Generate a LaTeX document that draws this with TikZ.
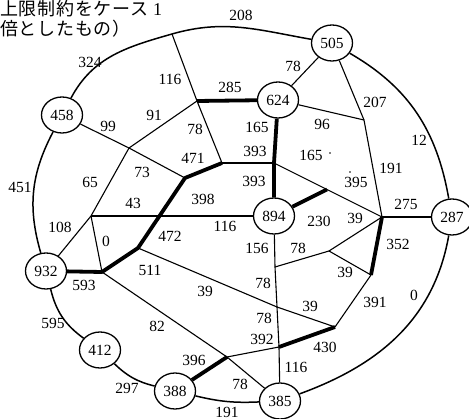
\documentclass[tikz,border=0pt]{standalone}
\usepackage{fontspec}
\setmainfont{Liberation Serif}
\newfontfamily\numfont{Liberation Serif}
\newfontfamily\jpfont[LetterSpace=4]{Noto Sans CJK JP}
\usetikzlibrary{shapes.geometric}
\begin{document}
\begin{tikzpicture}[x=1pt,y=1pt,
  cnode/.style={ellipse, draw, line width=1.3pt, minimum width=41pt, minimum height=36pt, inner sep=0pt, font=\numfont\fontsize{15.5}{18}\selectfont},
  lab/.style={inner sep=0pt, font=\numfont\fontsize{15.5}{18}\selectfont},
  title/.style={inner sep=0pt, anchor=west, font=\jpfont\fontsize{18}{21}\selectfont},
  edgethin/.style={line width=1.1pt},
  edgethick/.style={line width=3.8pt, line join=round},
  ring/.style={line width=1.5pt},
  speck/.style={fill, circle, inner sep=0pt, minimum size=1.6pt}]
\useasboundingbox (0,0) rectangle (469,-419);

% title
\node[title] (t1) at (0,-8.5) {上限制約をケース {\numfont 1}};
\node[title] (t2) at (0,-29) {倍としたもの）};

% circle nodes
\node[cnode] (n505) at (332,-43) {505};
\node[cnode] (n624) at (278,-100) {624};
\node[cnode] (n458) at (62,-115) {458};
\node[cnode] (n894) at (274,-216) {894};
\node[cnode] (n287) at (452,-217) {287};
\node[cnode] (n932) at (46,-271) {932};
\node[cnode] (n412) at (100,-350) {412};
\node[cnode] (n388) at (175,-391) {388};
\node[cnode] (n385) at (280,-401) {385};

% junctions
\coordinate (J1) at (172,-34);
\coordinate (J2) at (197,-101);
\coordinate (J3) at (222,-163);
\coordinate (J4) at (274,-163);
\coordinate (J5) at (364,-120);
\coordinate (J6) at (327,-189.5);
\coordinate (JR) at (382,-217);
\coordinate (J7) at (371,-275);
\coordinate (J8) at (329,-251);
\coordinate (J9) at (275,-267);
\coordinate (J10) at (277,-307);
\coordinate (J11) at (279,-347);
\coordinate (J13) at (335,-327);
\coordinate (J14) at (227,-357);
\coordinate (J15) at (102,-272);
\coordinate (J16) at (138,-248);
\coordinate (J17) at (185,-178);
\coordinate (J18) at (91,-216);
\coordinate (J19) at (129,-148);

% outer ring
\draw[ring] (n458) to[out=62,in=196] (J1) to[out=16,in=170] (n505);
\draw[ring] (n505) to[out=-30,in=100] (n287);
\draw[ring] (n287) to[out=-100,in=20] (n385);
\draw[ring] (n388) to[bend right=8] (n385);
\draw[ring] (n412) to[bend right=15] (n388);
\draw[ring] (n932) to[bend right=20] (n412);
\draw[ring] (n932) to[bend left=22] (n458);

% thin edges
\draw[edgethin] (J1) -- (J2);
\draw[edgethin] (J2) -- (J19);
\draw[edgethin] (J2) -- (J3);
\draw[edgethin] (J3) -- (J4);
\draw[edgethin] (J4) -- (JR);
\draw[edgethin] (n505) -- (n624);
\draw[edgethin] (n505) -- (J5);
\draw[edgethin] (n624) -- (J5);
\draw[edgethin] (J5) -- (JR);
\draw[edgethin] (JR) -- (n287);
\draw[edgethin] (JR) -- (J8);
\draw[edgethin] (J8) -- (J7);
\draw[edgethin] (J8) -- (J9);
\draw[edgethin] (n894) -- (J9) -- (J10) -- (J11) -- (n385);
\draw[edgethin] (J16) -- (J10) -- (J13);
\draw[edgethin] (J13) -- (J7);
\draw[edgethin] (J11) -- (J14);
\draw[edgethin] (J15) -- (J14);
\draw[edgethin] (J14) -- (n385);
\draw[edgethin] (n458) -- (J19) -- (J17);
\draw[edgethin] (J19) -- (J18);
\draw[edgethin] (J18) -- (n932);
\draw[edgethin] (J18) -- (J15);
\draw[edgethin] (J18) -- (n894);

% thick edges
\draw[edgethick] (n932) -- (J15) -- (J16) -- (J17) -- (J3);
\draw[edgethick] (J2) -- (n624);
\draw[edgethick] (n624) -- (J4) -- (n894);
\draw[edgethick] (n894) -- (J6);
\draw[edgethick] (JR) -- (J7);
\draw[edgethick] (J11) -- (J13);
\draw[edgethick] (J14) -- (n388);

% labels
\node[lab] (l1) at (90,-62) {324};
\node[lab] (l2) at (241,-15) {208};
\node[lab] (l3) at (170,-79) {116};
\node[lab] (l4) at (230,-87) {285};
\node[lab] (l5) at (293,-66) {78};
\node[lab] (l6) at (375,-102) {207};
\node[lab] (l7) at (322,-124) {96};
\node[lab] (l8) at (257,-127) {165};
\node[lab] (l9) at (255,-151) {393};
\node[lab] (l10) at (254,-181) {393};
\node[lab] (l11) at (108,-126) {99};
\node[lab] (l12) at (154,-115) {91};
\node[lab] (l13) at (195,-129) {78};
\node[lab] (l14) at (193,-158) {471};
\node[lab] (l15) at (142,-172) {73};
\node[lab] (l16) at (90,-182) {65};
\node[lab] (l17) at (20,-187) {451};
\node[lab] (l18) at (133,-203) {43};
\node[lab] (l19) at (203,-199) {398};
\node[lab] (l20) at (60,-227) {108};
\node[lab] (l21) at (106,-241) {0};
\node[lab] (l22) at (170,-236) {472};
\node[lab] (l23) at (225,-226) {116};
\node[lab] (l24) at (150,-270) {511};
\node[lab] (l25) at (84,-285) {593};
\node[lab] (l26) at (205,-291) {39};
\node[lab] (l27) at (257,-248) {156};
\node[lab] (l28) at (263,-283) {78};
\node[lab] (l29) at (298,-248) {78};
\node[lab] (l30) at (319,-221) {230};
\node[lab] (l31) at (355,-218) {39};
\node[lab] (l32) at (406,-204) {275};
\node[lab] (l33) at (398,-244) {352};
\node[lab] (l34) at (345,-272) {39};
\node[lab] (l35) at (391,-168) {191};
\node[lab] (l36) at (311,-155) {165};
\node[lab] (l37) at (356,-182) {395};
\node[lab] (l38) at (419,-140) {12};
\node[lab] (l39) at (414,-295) {0};
\node[lab] (l40) at (375,-302) {391};
\node[lab] (l41) at (310,-306) {39};
\node[lab] (l42) at (264,-318) {78};
\node[lab] (l43) at (262,-339) {392};
\node[lab] (l44) at (325,-347) {430};
\node[lab] (l45) at (296,-367) {116};
\node[lab] (l46) at (240,-384) {78};
\node[lab] (l47) at (194,-360) {396};
\node[lab] (l48) at (227,-412) {191};
\node[lab] (l49) at (127,-388) {297};
\node[lab] (l50) at (157,-326) {82};
\node[lab] (l51) at (53,-323) {595};
\node[speck] (s1) at (330,-153) {};
\node[speck] (s2) at (350,-172) {};
\end{tikzpicture}
\end{document}
